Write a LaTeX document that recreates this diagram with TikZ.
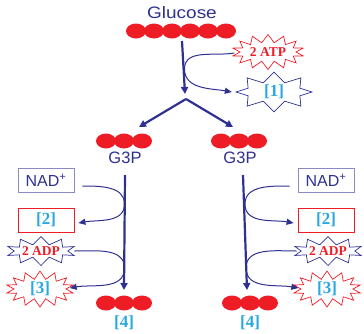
\documentclass[tikz,border=0pt]{standalone}
\usepackage{fontspec}
\setmainfont{Liberation Serif}
\setsansfont{Liberation Sans}
\usetikzlibrary{shapes.symbols,shapes.geometric,arrows.meta,calc}
\definecolor{navy}{HTML}{2E3192}
\definecolor{ballred}{HTML}{EE1C25}
\definecolor{labcyan}{HTML}{29A9E1}
\definecolor{boxblue}{HTML}{8A8AC6}
\begin{document}
\begin{tikzpicture}[x=1pt,y=-1pt,
  ball/.style={ellipse,fill=ballred,minimum width=20pt,minimum height=15pt,inner sep=0pt},
  title/.style={font=\sffamily\fontsize{16.5}{16.5}\selectfont,text=navy},
  lab/.style={font=\bfseries\fontsize{17}{17}\selectfont,text=labcyan},
  redtxt/.style={font=\bfseries\fontsize{13.5}{13.5}\selectfont,text=ballred},
  nadbox/.style={draw=boxblue,line width=0.8pt,minimum width=56pt,minimum height=24pt,inner sep=0pt,
    font=\sffamily\fontsize{16}{16}\selectfont,text=navy},
  redbox/.style={draw=ballred,line width=0.8pt,minimum width=56pt,minimum height=24pt,inner sep=0pt},
  burst/.style={starburst,random starburst=0,line width=0.7pt,inner sep=0pt},
  flow/.style={draw=navy,line width=2.2pt,-{Triangle[length=7pt,width=7pt]}},
  thin/.style={draw=navy,line width=1pt,-{Triangle[length=7pt,width=6pt]}}
]
\useasboundingbox (0,0) rectangle (364,333);
\node[title] (glu) at (182,13) {\scalebox{1.15}[1]{Glucose}};
\foreach \i in {0,...,5}{\node[ball] (g\i) at (136+18*\i,31) {};}
\foreach \i in {0,1,2}{
  \node[ball] (l\i) at (106+18*\i,141) {};
  \node[ball] (r\i) at (221+18*\i,141) {};
  \node[ball] (lb\i) at (106+18*\i,303) {};
  \node[ball] (rb\i) at (232+18*\i,303) {};
}
\node[title] (g3l) at (125,158) {G3P};
\node[title] (g3r) at (240,158) {G3P};
\node[lab] (f4l) at (124,323) {[4]};
\node[lab] (f4r) at (250,323) {[4]};
% stars top
\node[burst,draw=ballred,starburst points=14,starburst point height=8pt,minimum width=72pt,minimum height=35pt,redtxt] (atp) at (268,52) {2 ATP};
\node[burst,draw=navy,starburst points=8,starburst point height=10pt,minimum width=76pt,minimum height=28pt,lab] (one) at (274,92) {[1]};
% boxes
\node[nadbox] (nadL) at (46,180) {NAD\textsuperscript{+}};
\node[nadbox] (nadR) at (326,180) {NAD\textsuperscript{+}};
\node[redbox,lab] (twoL) at (46,220) {[2]};
\node[redbox,lab] (twoR) at (326,220) {[2]};
\node[burst,draw=navy,starburst points=10,starburst point height=8pt,minimum width=69pt,minimum height=29pt,redtxt] (adpL) at (41,251) {2 ADP};
\node[burst,draw=navy,starburst points=10,starburst point height=8pt,minimum width=69pt,minimum height=29pt,redtxt] (adpR) at (328,251) {2 ADP};
\node[burst,draw=ballred,starburst points=14,starburst point height=8pt,minimum width=68pt,minimum height=31pt,lab] (thrL) at (40,289) {[3]};
\node[burst,draw=ballred,starburst points=14,starburst point height=8pt,minimum width=68pt,minimum height=31pt,lab] (thrR) at (327,289) {[3]};
% main flow
\coordinate (mtop) at (182,41);
\coordinate (mend) at (185,94);
\coordinate (apex) at (186,99);
\draw[flow] (mtop) -- (mend);
\draw[flow] (apex) -- (139,127) coordinate (al);
\draw[flow] (apex) -- (233,127) coordinate (ar);
\draw[thin] ($(atp.west)+(-5,1)$) to[out=190,in=90] (184.5,69) to[out=-90,in=170] ($(one.west)+(-3,0)$);
% left column
\coordinate (ltop) at (125,175);
\coordinate (lend) at (124,290);
\draw[flow] (ltop) -- (lend);
\draw[thin] ($(nadL.east)+(8,6)$) to[out=0,in=90] (124.5,204) to[out=-90,in=10] ($(twoL.east)+(4,3)$);
\draw[thin] ($(adpL.east)+(6,0)$) to[out=0,in=90] (124.5,268) to[out=-90,in=10] ($(thrL.east)+(3,-1)$);
% right column
\coordinate (rtop) at (243,175);
\coordinate (rend) at (247,290);
\draw[flow] (rtop) -- (rend);
\draw[thin] ($(nadR.west)+(-8,6)$) to[out=180,in=90] (245,204) to[out=-90,in=170] ($(twoR.west)+(-4,3)$);
\draw[thin] ($(adpR.west)+(-4,0)$) to[out=180,in=90] (246,268) to[out=-90,in=170] ($(thrR.west)+(-2,-1)$);
\end{tikzpicture}
\end{document}
